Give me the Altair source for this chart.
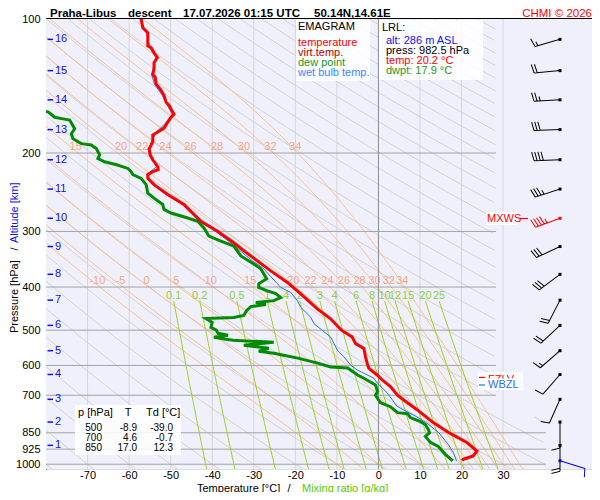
import altair as alt
import numpy as np
import pandas as pd

# ---------------- values ----------------
temp_p = [100, 104.7, 107.4, 114.9, 116.0, 119.1, 122.1, 125.3, 129.7, 133.1, 135.3, 140.1, 143.7, 148.4,
          153.8, 156.2, 163.6, 166.1, 170.5, 175.8, 179.4, 182.2, 188.9, 195.8, 201.9, 207.1, 214.7, 218.0,
          220.3, 223.7, 228.0, 235.5, 247.9, 260.9, 284.7, 299.6, 318.2, 332.0, 349.5, 367.9, 390.6, 414.6,
          447.7, 471.3, 500, 517.9, 535.8, 549.7, 573.9, 593.6, 609.0, 630.3, 646.7, 669.3, 700, 716.5,
          754.2, 806.3, 850, 893.3, 934.1, 958.4, 974.7, 982.5]
temp_t = [-57.1, -56.7, -55.5, -55.5, -54.7, -54.0, -53.2, -54.0, -54.0, -54.3, -53.7, -53.5, -52.5, -51.6,
          -51.1, -50.4, -49.2, -49.9, -50.7, -51.6, -53.1, -54.3, -54.3, -55.2, -54.9, -54.3, -53.1, -53.0,
          -54.3, -55.5, -55.5, -54.0, -50.7, -46.8, -42.7, -38.7, -34.8, -32.3, -29.1, -25.9, -21.9, -18.7,
          -14.7, -11.5, -8.9, -6.3, -5.5, -3.5, -3.1, -2.7, -2.3, -0.3, 0.9, 2.9, 4.6, 6.0,
          9.3, 13.2, 17.0, 21.3, 23.7, 22.8, 20.4, 20.2]

dwpt_p = [160.3, 161.9, 166.2, 167.6, 168.7, 176.4, 181.0, 185.7, 190.5, 191.8, 195.5, 201.9, 205.8, 209.3,
          212.5, 216.6, 220.3, 223.7, 228.0, 235.5, 246.2, 252.6, 260.9, 267.7, 272.8, 279.9, 284.7, 294.6,
          307.4, 315.4, 323.6, 340.6, 354.9, 364.1, 373.6, 383.3, 393.2, 400.8, 407.6, 413.9, 422.5, 429.1,
          433.5, 437.9, 442.5, 451.6, 463.4, 468.2, 470.6, 480.3, 492.8, 500, 508.2, 513.4, 518.7, 524.1,
          526.7, 532.2, 540.4, 548.8, 557.3, 563.1, 568.9, 577.7, 592.7, 605.0, 608.1, 630.3, 640.1, 663.5,
          687.7, 700, 727.6, 742.7, 765.9, 769.8, 785.8, 802.1, 814.5, 835.7, 850, 866.3, 893.3, 911.9,
          950.0, 982.5]
dwpt_t = [-81.1, -79.4, -77.9, -75.9, -74.3, -73.1, -73.9, -73.5, -71.5, -69.1, -67.9, -67.1, -67.5, -65.9,
          -63.0, -60.3, -59.5, -59.1, -57.1, -55.9, -55.5, -54.0, -51.9, -51.6, -49.9, -45.9, -43.5, -42.0,
          -40.8, -37.9, -34.8, -33.1, -30.0, -28.3, -27.6, -26.9, -28.8, -28.8, -26.9, -24.7, -23.5, -25.2,
          -29.5, -27.1, -30.7, -31.7, -32.4, -34.8, -41.5, -40.0, -40.3, -39.0, -38.6, -36.2, -39.6, -36.7,
          -35.0, -25.2, -32.4, -26.4, -28.8, -25.2, -22.8, -19.4, -14.6, -11.5, -7.4, -5.0, -3.6, -0.7,
          -0.2, -0.7, 0.5, 2.9, 4.6, 7.0, 7.7, 10.1, 11.3, 12.0, 12.3, 11.3, 12.5, 14.4,
          16.1, 17.9]

wetb_p = [100, 107.4, 116.0, 122.1, 133.1, 140.1, 148.4, 156.2, 163.6, 170.5, 179.4, 188.9, 201.9, 214.7,
          223.7, 235.5, 247.9, 260.9, 284.7, 299.6, 318.2, 332.0, 349.5, 361.7, 400.8, 411.2, 429.1, 444.1,
          467.5, 483.5, 500.5, 517.9, 535.8, 554.5, 573.9, 598.8, 614.4, 624.8, 641.1, 656.7, 691.2, 741.6,
          780.6, 806.3, 848.7, 902.5, 940.3, 982.5]
wetb_t = [-57.4, -55.8, -55.0, -53.5, -54.6, -53.9, -52.0, -50.8, -49.6, -51.0, -53.4, -54.7, -55.2, -53.4,
          -55.8, -54.3, -51.1, -47.2, -43.2, -39.3, -35.5, -33.2, -30.3, -27.9, -23.5, -21.1, -19.5, -18.7,
          -16.3, -15.5, -13.5, -11.5, -10.7, -9.9, -8.3, -6.7, -5.1, -3.5, -1.1, -0.3, 2.1, 4.5,
          9.0, 11.5, 14.5, 16.8, 18.0, 18.8]

km_levels = [16, 15, 14, 13, 12, 11, 10, 9, 8, 7, 6, 5, 4, 3, 2, 1]
km_p = [111.1, 130.6, 151.9, 177.2, 207.1, 241.0, 280.3, 324.4, 374.5, 428.0, 487.7, 555.9, 628.7, 714.8,
        804.1, 907.1]

wind_p = km_p + [982.5]
wind_dir = [254, 265, 267, 268, 268, 252, 250, 245, 233, 207, 227, 229, 221, 204, 180, 180, 107]
wind_kt = [15, 20, 25, 30, 40, 35, 45, 30, 30, 20, 20, 15, 10, 10, 10, 20, 10]

temp_ticks = [-70, -60, -50, -40, -30, -20, -10, 0, 10, 20, 30]
p_ticks = [100, 200, 300, 400, 500, 600, 700, 850, 925, 1000]
theta_list = list(range(-80, 330, 10))
thetaw_list = [-10, -5, 0, 5, 10, 15, 20, 22, 24, 26, 28, 30, 32, 34]
mixr_list = [0.1, 0.2, 0.5, 1, 1.5, 2, 3, 4, 6, 8, 10, 12, 15, 20, 25]
mixr_labels = ["0.1", "0.2", "0.5", "1", "4", "2", "3", "4", "6", "8", "10", "12", "15", "20", "25"]

table_p = ["500", "700", "850"]
table_t = ["-8.9", "4.6", "17.0"]
table_td = ["-39.0", "-0.7", "12.3"]

lrl_alt = "alt: 286 m ASL"
lrl_press = "press: 982.5 hPa"
lrl_temp = "temp: 20.2 °C"
lrl_dwpt = "dwpt: 17.9 °C"

# ---------------- layout / style ----------------
FONT = "Liberation Sans"
W, H = 546, 450
TMIN, TMAX = -80.0, 51.4
PMIN, PMAX = 100.0, 1025.0
RED = "#ff0000"
GREEN = "#008c00"
BLUE = "#2a6ef0"
KMBLUE = "#1010ee"

xs = alt.Scale(domain=[TMIN, TMAX], nice=False, zero=False)
ys = alt.Scale(type="log", domain=[PMIN, PMAX], reverse=True, nice=False)
xaxis = alt.Axis(values=temp_ticks, ticks=False, domain=False, grid=False, labelPadding=0, labelFontSize=11,
                 labelColor="black", labelFont=FONT, labelExpr="'' + datum.value", title=None,
                 labelOverlap=False, orient="bottom")
yaxis = alt.Axis(values=p_ticks, ticks=False, domain=True, domainColor="black", domainWidth=1, grid=False,
                 labelPadding=6, labelFontSize=11, labelColor="black", labelFont=FONT,
                 labelExpr="'' + datum.value", title=None, labelOverlap=False, orient="left")


def XF(f):
    return alt.X(f, type="quantitative", scale=xs, axis=xaxis)


def YF(f):
    return alt.Y(f, type="quantitative", scale=ys, axis=yaxis)


def right_edge(p):
    return np.where(p < 780, 28.3, 40.3)


def segments(curves):
    rows = []
    seg = 0
    for pv, tv in curves:
        keep = (tv <= right_edge(pv)) & (tv >= -86)
        prev = False
        for a, b, k in zip(pv, tv, keep):
            if k:
                if not prev:
                    seg += 1
                rows.append({"s": seg, "p": float(a), "t": float(b)})
            prev = bool(k)
    return pd.DataFrame(rows)


p_grid = np.exp(np.linspace(np.log(PMIN), np.log(PMAX), 320))

# dry adiabats
dry = segments([(p_grid, (th + 273.15) * (p_grid / 1000.0) ** 0.2857 - 273.15) for th in theta_list])

# pseudo-adiabats
Rd, cp, Lv, eps = 287.04, 1005.7, 2.501e6, 0.622


def es_hpa(tc):
    return 6.112 * np.exp(17.67 * tc / (tc + 243.5))


def dT_dlnp(T, p):
    e = es_hpa(T - 273.15)
    r = eps * e / (p - e)
    return (Rd * T + Lv * r) / (cp + Lv * Lv * r * eps / (Rd * T * T))


def integ(T0, lnp_end, n):
    lnps = np.linspace(np.log(1000.0), lnp_end, n)
    T = T0
    out = [T]
    for i in range(n - 1):
        h = lnps[i + 1] - lnps[i]
        p0, p1, p2 = np.exp(lnps[i]), np.exp(lnps[i] + h / 2), np.exp(lnps[i + 1])
        k1 = dT_dlnp(T, p0)
        k2 = dT_dlnp(T + h / 2 * k1, p1)
        k3 = dT_dlnp(T + h / 2 * k2, p1)
        k4 = dT_dlnp(T + h * k3, p2)
        T = T + h / 6 * (k1 + 2 * k2 + 2 * k3 + k4)
        out.append(T)
    return lnps, np.array(out)


def moist(thw, ptargets):
    T0 = thw + 273.15
    lu, tu = integ(T0, np.log(PMIN), 500)
    ld, td = integ(T0, np.log(PMAX), 12)
    lall = np.concatenate([lu[::-1], ld[1:]])
    tall = np.concatenate([tu[::-1], td[1:]])
    return np.interp(np.log(ptargets), lall, tall) - 273.15


moist_curves = [(p_grid, moist(tw, p_grid)) for tw in thetaw_list]
wet = segments(moist_curves)

lab400 = pd.DataFrame({"p": 387.5, "t": [float(moist(tw, np.array([400.0]))[0]) - 0.6 for tw in thetaw_list],
                       "txt": [str(tw) for tw in thetaw_list]})
t200 = [float(moist(tw, np.array([200.0]))[0]) - 0.6 for tw in thetaw_list]
lab200 = pd.DataFrame({"p": 194.0, "t": t200, "txt": [str(tw) for tw in thetaw_list]})
lab200 = lab200[lab200.t > -76]


# mixing ratio lines
def td_of_w(w, p):
    e = w * p / (622.0 + w)
    g = np.log(e / 6.112)
    return 243.5 * g / (17.67 - g)


p_mr = np.exp(np.linspace(np.log(430.0), np.log(PMAX), 60))
mix = segments([(p_mr, td_of_w(w, p_mr)) for w in mixr_list])
mixlab = pd.DataFrame({"p": 418.5, "t": [float(td_of_w(w, 430.0)) for w in mixr_list], "txt": mixr_labels})

ONE = alt.Data(values=[{}])
layers = []


def txt(s, x, y, color="black", size=11, align="left", weight="normal", angle=0, baseline="middle"):
    return alt.Chart(ONE).mark_text(text=s, align=align, baseline=baseline, color=color, fontSize=size,
                                    fontWeight=weight, angle=angle, font=FONT).encode(
        x=alt.value(x), y=alt.value(y))


def box(x1, y1, x2, y2, color="white", opacity=0.85):
    return alt.Chart(ONE).mark_rect(color=color, opacity=opacity).encode(
        x=alt.value(x1), x2=alt.value(x2), y=alt.value(y1), y2=alt.value(y2))


def hline(x1, x2, y, color, width=1.0):
    return alt.Chart(ONE).mark_rule(color=color, strokeWidth=width).encode(
        x=alt.value(x1), x2=alt.value(x2), y=alt.value(y))


# background
layers.append(box(0, 0, W, H, color="#f0f0fc", opacity=1))

# vertical temperature grid
vg = pd.DataFrame({"t": [t for t in temp_ticks if t != 0]})
layers.append(alt.Chart(vg).mark_rule(color="#d6d6d6", strokeWidth=1).encode(
    x=XF("t"), y=alt.value(0), y2=alt.value(H)))

# dry adiabats
layers.append(alt.Chart(dry).mark_line(color="#d2d2d2", strokeWidth=1, clip=True).encode(
    x=XF("t"), y=YF("p"), detail="s:N", order="p:Q"))
# moist adiabats
layers.append(alt.Chart(wet).mark_line(color="#ffc080", strokeWidth=1, clip=True).encode(
    x=XF("t"), y=YF("p"), detail="s:N", order="p:Q"))

# isobars (axes are attached to every positional field encoding)
hl = pd.DataFrame({"p": p_ticks[1:], "x0": TMIN})
hl["x1"] = np.where(hl.p < 800, 28.3, 40.3)
layers.append(alt.Chart(hl).mark_rule(color="#a3a3a3", strokeWidth=1).encode(
    x=XF("x0"), x2="x1:Q", y=YF("p")))

# mixing ratio lines
layers.append(alt.Chart(mix).mark_line(color="#9ad21e", strokeWidth=1, clip=True).encode(
    x=XF("t"), y=YF("p"), detail="s:N", order="p:Q"))

# 0 degC line
layers.append(alt.Chart(pd.DataFrame({"t": [0]})).mark_rule(color="#8c8c8c", strokeWidth=1).encode(
    x=XF("t"), y=alt.value(0), y2=alt.value(H)))

# labels of isopleths
for d in (lab400, lab200):
    layers.append(alt.Chart(d).mark_text(color="#f7a585", fontSize=11, font=FONT, align="center",
                                         baseline="middle").encode(x=XF("t"), y=YF("p"), text="txt:N"))
layers.append(alt.Chart(mixlab).mark_text(color="#8fd03a", fontSize=11, font=FONT, align="center",
                                          baseline="middle").encode(x=XF("t"), y=YF("p"), text="txt:N"))

# altitude labels
kmdf = pd.DataFrame({"km": km_levels, "p": km_p})
layers.append(alt.Chart(kmdf).mark_rule(color=KMBLUE, strokeWidth=1.5).encode(
    x=alt.value(1.5), x2=alt.value(7), y=YF("p")))
layers.append(alt.Chart(kmdf).mark_text(color=KMBLUE, fontSize=11, font=FONT, align="left",
                                        baseline="middle").encode(x=alt.value(9), y=YF("p"), text="km:N"))

# sounding curves
wb = pd.DataFrame({"p": wetb_p, "t": wetb_t})
wb["i"] = range(len(wb))
dp = pd.DataFrame({"p": dwpt_p, "t": dwpt_t})
dp["i"] = range(len(dp))
tt = pd.DataFrame({"p": temp_p, "t": temp_t})
tt["i"] = range(len(tt))
layers.append(alt.Chart(wb).mark_line(color=BLUE, strokeWidth=1, clip=True).encode(
    x=XF("t"), y=YF("p"), order="i:Q"))
layers.append(alt.Chart(dp).mark_line(color=GREEN, strokeWidth=3, clip=True).encode(
    x=XF("t"), y=YF("p"), order="i:Q"))
layers.append(alt.Chart(tt).mark_line(color=RED, strokeWidth=3, clip=True).encode(
    x=XF("t"), y=YF("p"), order="i:Q"))


# wind barbs
def barb_path(kt):
    parts = ["M0,0L0,-1"]
    n_full = kt // 10
    half = (kt % 10) >= 5
    y = -1.0
    step = 0.12
    for _ in range(n_full):
        parts.append("M0,%.3fL0.33,%.3f" % (y, y - 0.08))
        y += step
    if half:
        if n_full == 0:
            y += step
        parts.append("M0,%.3fL0.17,%.3f" % (y, y - 0.04))
    return "".join(parts)


wd = pd.DataFrame({"p": wind_p, "dir": wind_dir, "kt": wind_kt})
wd["path"] = [barb_path(k) for k in wind_kt]
wd["col"] = np.where(wd.kt == wd.kt.max(), RED, "black")
wd.loc[wd.index[-1], "col"] = "#0000ee"
layers.append(alt.Chart(wd).mark_point(filled=False, strokeWidth=1, opacity=1, size=2704).encode(
    x=alt.value(514), y=YF("p"), shape=alt.Shape("path:N", scale=None),
    angle=alt.Angle("dir:Q", scale=None), color=alt.Color("col:N", scale=None)))
layers.append(alt.Chart(wd).mark_square(size=9, opacity=1).encode(
    x=alt.value(514), y=YF("p"), color=alt.Color("col:N", scale=None)))

# top border
layers.append(hline(0, 547, -0.5, "black", 1))

# legend box
layers.append(box(250, 1, 324, 62))
layers.append(txt("EMAGRAM", 252, 8, size=11))
layers.append(txt("temperature", 252, 24, color=RED))
layers.append(txt("virt.temp.", 252, 34, color="#b00000"))
layers.append(txt("dew point", 252, 44, color="#1a9a1a"))
layers.append(txt("wet bulb temp.", 252, 54, color="#3a86ff"))

# LRL box
layers.append(box(333, 1, 437, 61))
layers.append(txt("LRL:", 336, 9))
layers.append(txt(lrl_alt, 340, 22, color=KMBLUE))
layers.append(txt(lrl_press, 340, 32))
layers.append(txt(lrl_temp, 340, 42, color=RED))
layers.append(txt(lrl_dwpt, 340, 52, color="#1a9a1a"))

# table box
layers.append(box(29, 386, 135, 436))
layers.append(txt("p [hPa]", 32, 393.5))
layers.append(txt("T", 82, 393.5, align="center"))
layers.append(txt("Td [°C]", 100, 393.5))
for i in range(len(table_p)):
    yy = 408.5 + 10 * i
    layers.append(txt(table_p[i], 56, yy, size=10, align="right"))
    layers.append(txt(table_t[i], 91, yy, size=10, align="right"))
    layers.append(txt(table_td[i], 127, yy, size=10, align="right"))

# MXWS / FZLV / WBZL
layers.append(box(440, 193, 472, 206, opacity=0.9))
layers.append(txt("MXWS", 441, 199.5, color=RED))
layers.append(hline(474, 482, 199.5, RED, 1.2))
layers.append(box(432, 353, 477, 371, opacity=0.9))
layers.append(hline(433, 439, 358.4, RED, 1.2))
layers.append(txt("FZLV", 442, 361, color=RED))
layers.append(box(432, 359.4, 477, 371, opacity=1))
layers.append(hline(433, 439, 366, BLUE, 1.2))
layers.append(txt("WBZL", 442, 366, color=BLUE))

# titles
TY = -2.5
layers.append(txt("Praha-Libus", 4, TY, size=11.5, weight="bold", baseline="alphabetic"))
layers.append(txt("descent", 82, TY, size=11.5, weight="bold", baseline="alphabetic"))
layers.append(txt("17.07.2026 01:15 UTC", 137, TY, size=11.5, weight="bold", baseline="alphabetic"))
layers.append(txt("50.14N,14.61E", 268, TY, size=11.5, weight="bold", baseline="alphabetic"))
layers.append(txt("CHMI © 2026", 546, TY, color=RED, size=11.5, align="right", baseline="alphabetic"))

XT = 472.5
layers.append(txt("Temperature [°C]", 151, XT, baseline="alphabetic"))
layers.append(txt("/", 243, XT, align="center", baseline="alphabetic"))
layers.append(txt("Mixing ratio [g/kg]", 256, XT, color="#5ac800", baseline="alphabetic"))

YT = -31.5
layers.append(txt("Pressure [hPa]", YT, 314, angle=270))
layers.append(txt("/", YT, 230, angle=270, align="center"))
layers.append(txt("Altitude [km]", YT, 224, color=KMBLUE, angle=270))

chart = alt.layer(*layers).properties(
    width=W, height=H,
    autosize=alt.AutoSizeParams(type="none"),
    padding={"left": 38, "top": 11, "right": 0, "bottom": 23},
    background="white",
).configure_view(stroke=None).configure(font=FONT)

chart.save("out.html", embed_options={"renderer": "svg", "actions": False})
